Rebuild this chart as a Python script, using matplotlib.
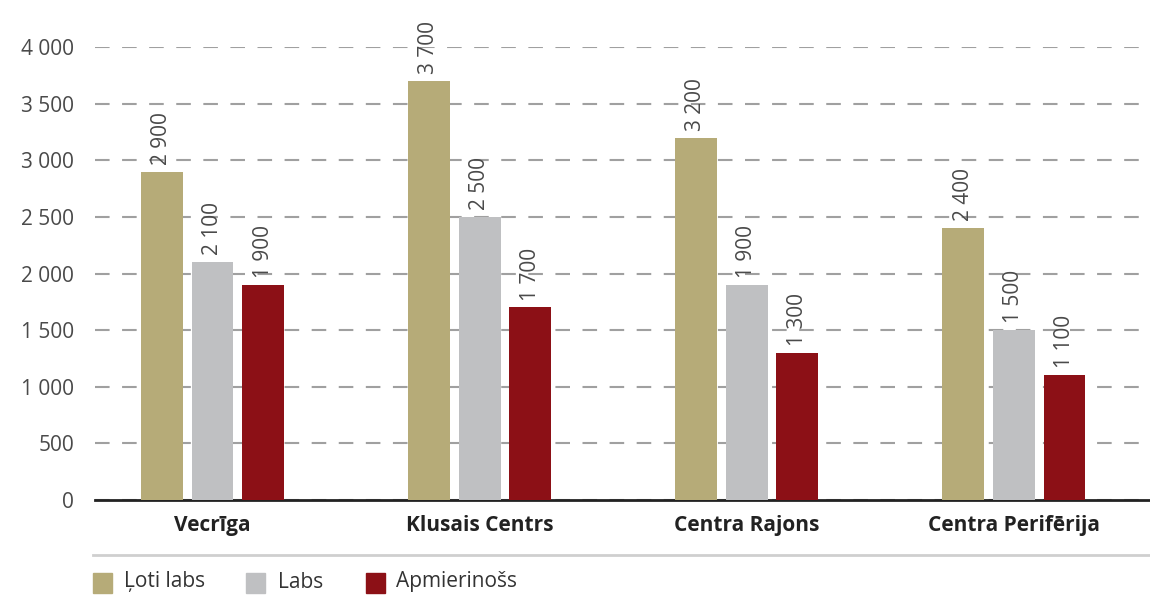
import matplotlib
matplotlib.use("Agg")
import matplotlib.pyplot as plt
from matplotlib.patches import Rectangle
from matplotlib.lines import Line2D
import numpy as np

categories = ["Vecrīga", "Klusais Centrs", "Centra Rajons", "Centra Perifērija"]
series_names = ["Ļoti labs", "Labs", "Apmierinošs"]
loti_labs = [2900, 3700, 3200, 2400]
labs = [2100, 2500, 1900, 1500]
apmierinoss = [1900, 1700, 1300, 1100]
yticks = [0, 500, 1000, 1500, 2000, 2500, 3000, 3500, 4000]
colors = ["#B6AB78", "#BFC0C2", "#8C1016"]

plt.rcParams['font.family'] = ['Open Sans', 'DejaVu Sans']

fig = plt.figure(figsize=(11.5, 5.95), dpi=100)
ax = fig.add_axes([95/1150, 95/595, 1 - 95/1150, (500-47)/595])

x = np.arange(len(categories))
w = 0.157
step = 0.19
for i, (vals, c) in enumerate(zip([loti_labs, labs, apmierinoss], colors)):
    pos = x + (i - 1) * step
    ax.bar(pos, vals, width=w, color=c, zorder=3)
    for p, v in zip(pos, vals):
        lab = f"{v:,}".replace(",", " ")
        ax.annotate(lab, (p, v), xytext=(0, 5), textcoords="offset points",
                    rotation=90, ha="center", va="bottom", fontsize=15,
                    color="#4a4a4a", annotation_clip=False, zorder=4)

ax.set_xlim(-0.44, 3.51)
ax.set_ylim(0, 4000)
ax.set_yticks(yticks)
ax.set_yticklabels([f"{t:,}".replace(",", " ") for t in yticks], fontsize=15, color="#4a4a4a")
ax.yaxis.grid(True, color="#a0a0a0", linewidth=1.5, linestyle=(0, (7, 6)), zorder=0)
ax.set_axisbelow(True)
ax.tick_params(axis="y", length=0, pad=15)
ax.tick_params(axis="x", length=0, pad=11)
ax.set_xticks(x)
ax.set_xticklabels(categories, fontsize=15, fontweight="bold", color="#222222")
for s in ["top", "right", "left"]:
    ax.spines[s].set_visible(False)
ax.spines["bottom"].set_color("#222222")
ax.spines["bottom"].set_linewidth(2)

# separator line
fig.add_artist(Line2D([93/1150, 1.0], [1 - 555/595, 1 - 555/595], color="#cfcfcf", linewidth=2))

# legend
leg_items = [(93, 124), (246, 278), (366, 396)]
for (sx, tx), name, c in zip(leg_items, series_names, colors):
    fig.add_artist(Rectangle((sx/1150, 1 - 593/595), 19/1150, 20/595, color=c, transform=fig.transFigure))
    fig.text(tx/1150, 1 - 582/595, name, fontsize=15, color="#333333", va="center", ha="left")

fig.savefig("out.png", dpi=100)
